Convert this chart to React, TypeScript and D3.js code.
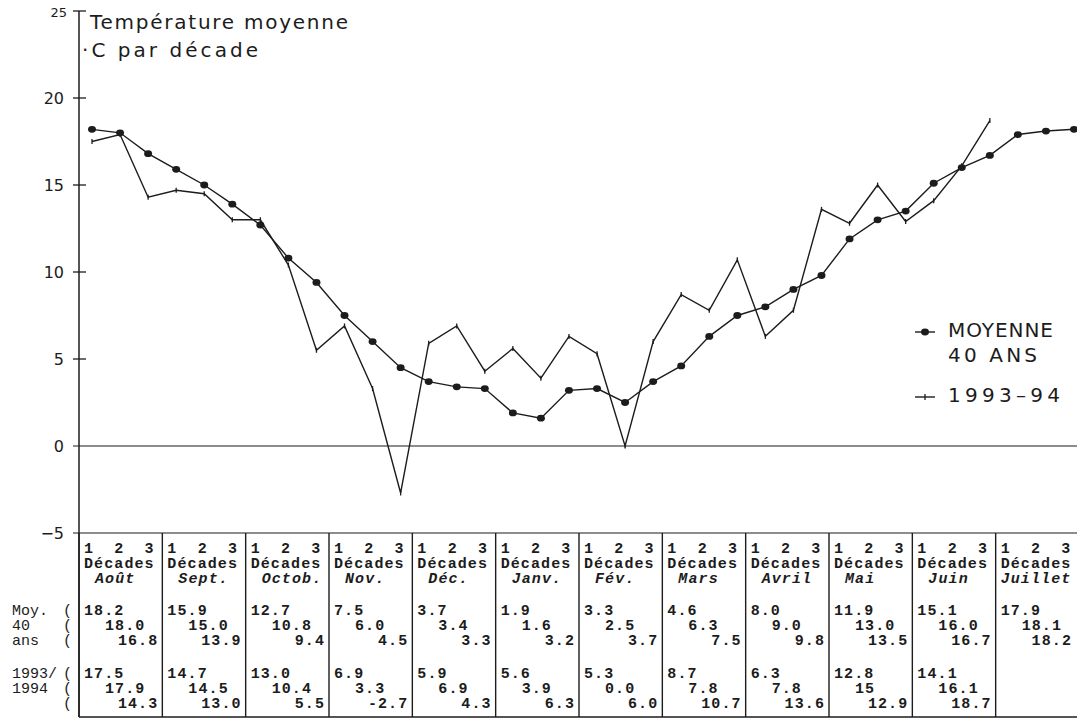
import React, { useEffect, useRef } from "react";
import * as d3 from "d3";

// mois (colonnes du tableau)
const mois = ["Août", "Sept.", "Octob.", "Nov.", "Déc.", "Janv.", "Fév.", "Mars", "Avril", "Mai", "Juin", "Juillet"];

// valeurs par décade, telles qu'écrites dans le tableau
const moyenne40ans = [
  "18.2", "18.0", "16.8", "15.9", "15.0", "13.9", "12.7", "10.8", "9.4",
  "7.5", "6.0", "4.5", "3.7", "3.4", "3.3", "1.9", "1.6", "3.2",
  "3.3", "2.5", "3.7", "4.6", "6.3", "7.5", "8.0", "9.0", "9.8",
  "11.9", "13.0", "13.5", "15.1", "16.0", "16.7", "17.9", "18.1", "18.2",
];
const annee1993_94 = [
  "17.5", "17.9", "14.3", "14.7", "14.5", "13.0", "13.0", "10.4", "5.5",
  "6.9", "3.3", "-2.7", "5.9", "6.9", "4.3", "5.6", "3.9", "6.3",
  "5.3", "0.0", "6.0", "8.7", "7.8", "10.7", "6.3", "7.8", "13.6",
  "12.8", "15", "12.9", "14.1", "16.1", "18.7",
];

const yTicks = [20, 15, 10, 5, 0, -5];
const rowLabelsMoy = ["Moy.", "40", "ans"];
const rowLabels9394 = ["1993/", "1994", ""];

const W = 1077;
const H = 720;
const ink = "#1c1c1c";
const mono = "'Liberation Mono', 'DejaVu Sans Mono', monospace";
const sans = "'DejaVu Sans', sans-serif";

const Chart = () => {
  const svgRef = useRef<SVGSVGElement>(null);

  useEffect(() => {
    const svg = d3.select(svgRef.current);
    svg.selectAll("*").remove();

    const x = d3.scaleLinear().domain([0, 35]).range([92, 1074]);
    const y = d3.scaleLinear().domain([-5, 25]).range([533, 11]);
    // colonnes du tableau (un mois par colonne)
    const col = d3.scaleLinear().domain([0, 12]).range([79, 1079]);
    const axisX = col(0);
    const tableBottom = 717;

    svg.append("rect").attr("width", W).attr("height", H).attr("fill", "#fff");

    // axe vertical
    svg.append("line")
      .attr("x1", axisX).attr("x2", axisX)
      .attr("y1", y(25)).attr("y2", tableBottom)
      .attr("stroke", ink).attr("stroke-width", 1.5);

    svg.append("line")
      .attr("x1", axisX - 6).attr("x2", axisX + 7)
      .attr("y1", y(25)).attr("y2", y(25))
      .attr("stroke", ink).attr("stroke-width", 1.3);
    svg.append("text")
      .attr("x", 67).attr("y", y(25) + 6)
      .attr("text-anchor", "end")
      .attr("font-family", sans).attr("font-size", 13).attr("fill", ink)
      .text("25");

    yTicks.forEach((t) => {
      svg.append("line")
        .attr("x1", axisX - 6)
        .attr("x2", t <= 0 ? W : axisX + 7)
        .attr("y1", y(t)).attr("y2", y(t))
        .attr("stroke", ink).attr("stroke-width", t <= 0 ? 1.2 : 1.3);
      svg.append("text")
        .attr("x", 64).attr("y", y(t) + 6)
        .attr("text-anchor", "end")
        .attr("font-family", sans).attr("font-size", 16).attr("fill", ink)
        .text(t < 0 ? "\u2212" + Math.abs(t) : String(t));
    });

    // titre
    svg.append("text")
      .attr("x", 90).attr("y", 29)
      .attr("font-family", sans).attr("font-size", 20).attr("fill", ink)
      .attr("textLength", 258).attr("lengthAdjust", "spacing")
      .text("Température moyenne");
    svg.append("text")
      .attr("x", 82).attr("y", 57)
      .attr("font-family", sans).attr("font-size", 20).attr("fill", ink)
      .attr("textLength", 176).attr("lengthAdjust", "spacing")
      .text("·C par décade");

    // courbes
    const moy = moyenne40ans.map(Number);
    const an = annee1993_94.map(Number);
    const line = d3.line<number>().x((_, i) => x(i)).y((d) => y(d));

    svg.append("path").datum(an)
      .attr("d", line).attr("fill", "none")
      .attr("stroke", ink).attr("stroke-width", 1.4);
    svg.append("path").datum(moy)
      .attr("d", line).attr("fill", "none")
      .attr("stroke", ink).attr("stroke-width", 1.4);

    svg.selectAll(".pt-an").data(an).enter().append("path")
      .attr("class", "pt-an")
      .attr("d", (d, i) => `M${x(i)},${y(d) - 2.5}V${y(d) + 2.5}`)
      .attr("stroke", ink).attr("stroke-width", 1.3);

    svg.selectAll(".pt-moy").data(moy).enter().append("ellipse")
      .attr("class", "pt-moy")
      .attr("cx", (_, i) => x(i)).attr("cy", (d) => y(d))
      .attr("rx", 4).attr("ry", 3.4)
      .attr("fill", ink);

    // légende
    const lg = svg.append("g");
    lg.append("line").attr("x1", 915).attr("x2", 935).attr("y1", 332).attr("y2", 332)
      .attr("stroke", ink).attr("stroke-width", 1.4);
    lg.append("ellipse").attr("cx", 925).attr("cy", 332).attr("rx", 4).attr("ry", 3.4).attr("fill", ink);
    lg.append("line").attr("x1", 915).attr("x2", 935).attr("y1", 397).attr("y2", 397)
      .attr("stroke", ink).attr("stroke-width", 1.4);
    lg.append("line").attr("x1", 925).attr("x2", 925).attr("y1", 394).attr("y2", 400)
      .attr("stroke", ink).attr("stroke-width", 1.3);
    [["MOYENNE", 337, 105], ["40 ANS", 362, 89], ["1993\u201394", 402, 112]].forEach(([t, yy, len]) => {
      lg.append("text")
        .attr("x", 948).attr("y", yy as number)
        .attr("font-family", sans).attr("font-size", 20).attr("fill", ink)
        .attr("textLength", len as number).attr("lengthAdjust", "spacing")
        .text(t as string);
    });

    // tableau
    const tb = svg.append("g")
      .attr("font-family", mono).attr("font-size", 15).attr("font-weight", "bold")
      .attr("fill", ink);
    tb.append("line")
      .attr("x1", axisX).attr("x2", W)
      .attr("y1", tableBottom).attr("y2", tableBottom)
      .attr("stroke", ink).attr("stroke-width", 1.5);

    mois.forEach((m, k) => {
      const left = col(k);
      const right = Math.min(col(k + 1), W - 1);
      tb.append("line")
        .attr("x1", left).attr("x2", left)
        .attr("y1", y(-5)).attr("y2", tableBottom)
        .attr("stroke", ink).attr("stroke-width", 1.4);
      tb.append("text")
        .attr("x", left + 5).attr("y", 553)
        .attr("xml:space", "preserve").style("white-space", "pre")
        .attr("letter-spacing", 1.1)
        .text("1  2  3");
      tb.append("text")
        .attr("x", left + 5).attr("y", 568)
        .attr("letter-spacing", 1.1)
        .text("Décades");
      tb.append("text")
        .attr("x", left + (m.length >= 7 ? 5 : 16)).attr("y", 583)
        .attr("font-style", "italic").attr("letter-spacing", 1.1)
        .text(m);

      [[moyenne40ans, 615], [annee1993_94, 678]].forEach(([vals, y0]) => {
        for (let d = 0; d < 3; d++) {
          const v = (vals as string[])[3 * k + d];
          if (v === undefined) continue;
          const yy = (y0 as number) + d * 15;
          const t = tb.append("text").attr("y", yy).attr("letter-spacing", 1.1).text(v);
          if (d === 0) t.attr("x", left + 5);
          else if (d === 1) t.attr("x", left + 26);
          else t.attr("x", right - 4).attr("text-anchor", "end");
        }
      });
    });

    rowLabelsMoy.forEach((r, i) => {
      tb.append("text").attr("x", 12).attr("y", 615 + i * 15).attr("font-weight", "normal").text(r);
      tb.append("text").attr("x", 63).attr("y", 615 + i * 15).attr("font-weight", "normal").text("(");
    });
    rowLabels9394.forEach((r, i) => {
      tb.append("text").attr("x", 12).attr("y", 678 + i * 15).attr("font-weight", "normal").text(r);
      tb.append("text").attr("x", 63).attr("y", 678 + i * 15).attr("font-weight", "normal").text("(");
    });
  }, []);

  return <svg ref={svgRef} width={W} height={H} style={{ position: "absolute", left: 0, top: 0 }} />;
};

export default function App() {
  return <Chart />;
}
